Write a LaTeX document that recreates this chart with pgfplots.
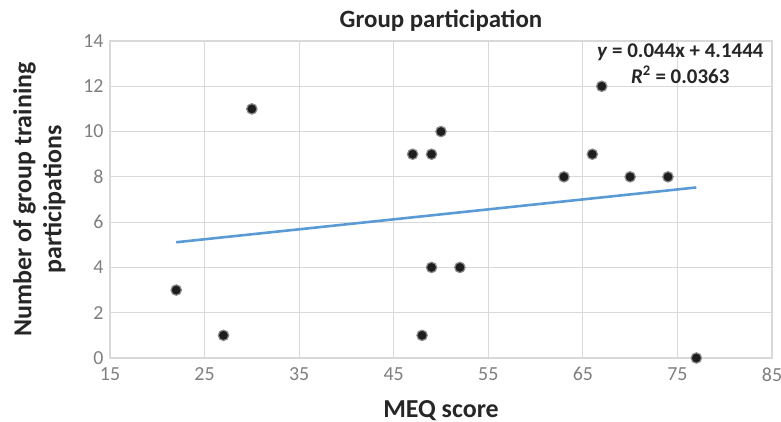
\documentclass[border=0pt]{standalone}
\usepackage{pgfplots}
\pgfplotsset{compat=1.18}
\usepackage{fontspec}
\setmainfont{Carlito}
\definecolor{gridgray}{HTML}{D9D9D9}
\definecolor{ticktext}{HTML}{7F7F7F}
\definecolor{darktext}{HTML}{262626}
\definecolor{trendblue}{HTML}{5B9BD5}
\definecolor{dotfill}{HTML}{1E1E1E}
\definecolor{dotedge}{HTML}{8C8C8C}
\begin{document}
\begin{tikzpicture}
\useasboundingbox (-110bp,-64bp) rectangle (671bp,358bp);
\begin{axis}[
  at={(0,0)}, anchor=south west,
  width=662bp, height=317bp, scale only axis,
  xmin=15, xmax=85, ymin=0, ymax=14,
  xtick={15,25,...,85}, ytick={0,2,...,14},
  grid=major,
  major grid style={draw=gridgray, line width=1.1bp},
  axis line style={draw=gridgray, line width=1.1bp},
  major tick length=0pt,
  /pgf/number format/assume math mode=true,
  tick label style={font=\fontsize{20}{24}\selectfont, text=ticktext},
  xticklabel style={yshift=-6bp},
  yticklabel style={xshift=-3bp},
  title={Group participation},
  every axis title/.style={font=\fontsize{25}{30}\selectfont\bfseries, text=darktext, at={(rel axis cs:0.5,1)}, anchor=base, yshift=13bp, inner sep=0pt},
  xlabel={MEQ score},
  every axis x label/.style={font=\fontsize{26}{30}\selectfont\bfseries, text=darktext, at={(rel axis cs:0.5,0)}, anchor=base, yshift=-59bp, inner sep=0pt},
  ylabel={Number of group training\\participations},
  every axis y label/.style={font=\fontsize{26}{30}\selectfont\bfseries, text=darktext, align=center, at={([xshift=-97bp]rel axis cs:0,0.5)}, rotate=90, anchor=north, inner sep=0pt},
  clip=false,
]
\addplot[trendblue, line width=2.6bp, no marks] coordinates {(22,5.112) (77,7.532)};
\addplot[only marks, mark=*, mark size=5.2bp, mark options={fill=dotfill, draw=dotedge, line width=1.2bp}] coordinates {
(22,3) (27,1) (30,11) (47,9) (49,9) (50,10) (49,4) (52,4) (48,1)
(63,8) (66,9) (67,12) (70,8) (74,8) (77,0)
};
\node[anchor=base, font=\fontsize{21}{25}\selectfont\bfseries, text=darktext, inner sep=0pt] at (axis cs:75.3,13.25) {\textit{y} = 0.044x + 4.1444};
\node[anchor=base, font=\fontsize{21}{25}\selectfont\bfseries, text=darktext, inner sep=0pt] at (axis cs:75.3,12.14) {\textit{R}\textsuperscript{2} = 0.0363};
\end{axis}
\end{tikzpicture}
\end{document}
